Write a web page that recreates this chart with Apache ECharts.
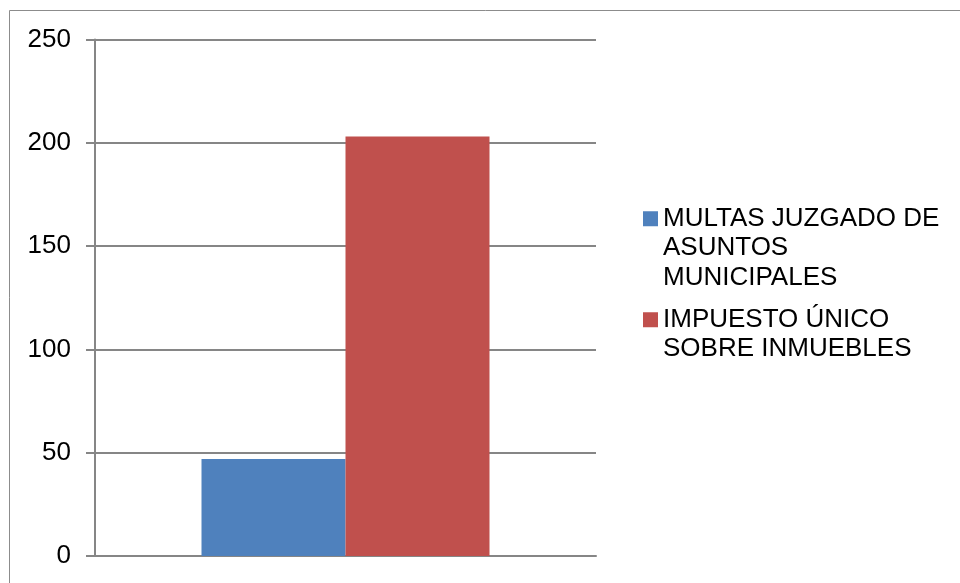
<!DOCTYPE html>
<html>
<head>
<meta charset="utf-8">
<script src="https://cdn.jsdelivr.net/npm/echarts@6/dist/echarts.min.js"></script>
<style>
  html, body { margin: 0; padding: 0; background: #fff; }
  #main { width: 960px; height: 583px; }
</style>
</head>
<body>
<div id="main"></div>
<script>
// datos del gráfico
var categories = [''];
var seriesNames = ['MULTAS JUZGADO DE ASUNTOS MUNICIPALES', 'IMPUESTO ÚNICO SOBRE INMUEBLES'];
var multas = [47];
var impuesto = [203];
var legendLines = {
    'MULTAS JUZGADO DE ASUNTOS MUNICIPALES': ['MULTAS JUZGADO DE', 'ASUNTOS', 'MUNICIPALES'],
    'IMPUESTO ÚNICO SOBRE INMUEBLES': ['IMPUESTO ÚNICO', 'SOBRE INMUEBLES']
};

var font = '"Liberation Sans", Arial, sans-serif';
var gray = '#868686';

var myChart = echarts.init(document.getElementById('main'));
var option = {
    animation: false,
    backgroundColor: '#fff',
    textStyle: { fontFamily: font },
    graphic: [{
        type: 'rect',
        shape: { x: 9.5, y: 10.5, width: 1200, height: 1200 },
        style: { fill: 'none', stroke: '#8c8c8c', lineWidth: 1 },
        silent: true
    }],
    grid: { left: 95, right: 364, top: 39.5, bottom: 27 },
    legend: {
        orient: 'vertical',
        left: 638,
        top: 140,
        itemWidth: 15,
        itemHeight: 15,
        itemGap: -17,
        icon: 'rect',
        data: seriesNames,
        textStyle: { fontFamily: font, fontSize: 26, color: '#000', lineHeight: 29.5 },
        // líneas en blanco arriba para que el cuadro quede con la primera línea
        formatter: function (name) {
            var lines = legendLines[name];
            var pad = [];
            for (var i = 0; i < lines.length - 1; i++) pad.push('');
            return pad.concat(lines).join('\n');
        }
    },
    xAxis: {
        type: 'category',
        data: categories,
        axisLine: { lineStyle: { color: gray, width: 2 } },
        axisTick: { show: false },
        axisLabel: { show: false }
    },
    yAxis: {
        type: 'value',
        min: 0,
        max: 250,
        interval: 50,
        axisLine: { show: true, lineStyle: { color: gray, width: 2 } },
        axisTick: { show: true, length: 9, lineStyle: { color: gray, width: 2 } },
        axisLabel: { fontFamily: font, fontSize: 26, color: '#000', margin: 24 },
        splitLine: { lineStyle: { color: gray, width: 2 } }
    },
    series: [{
        name: seriesNames[0],
        type: 'bar',
        data: multas,
        barWidth: 144,
        barGap: '0%',
        itemStyle: { color: '#4f81bd' }
    }, {
        name: seriesNames[1],
        type: 'bar',
        data: impuesto,
        barWidth: 144,
        barGap: '0%',
        itemStyle: { color: '#c0504d' }
    }]
};
myChart.setOption(option);
</script>
</body>
</html>
